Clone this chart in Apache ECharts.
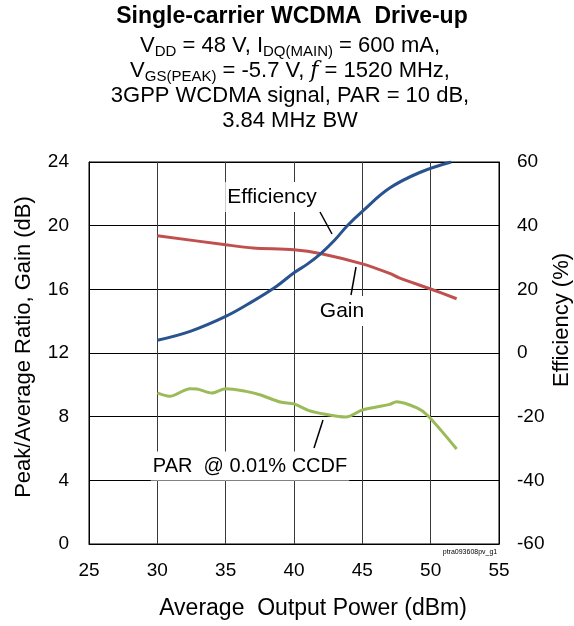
<!DOCTYPE html>
<html><head><meta charset="utf-8">
<script src="https://cdn.jsdelivr.net/npm/echarts@6/dist/echarts.min.js"></script>
<style>html,body{margin:0;padding:0;background:#fff}#c{width:574px;height:626px}</style>
</head><body><div id="c"></div>
<script>
const xTicks = [25, 30, 35, 40, 45, 50, 55];
const leftTicks = [0, 4, 8, 12, 16, 20, 24];
const rightTicks = [-60, -40, -20, 0, 20, 40, 60];

const effX = [30, 32.4, 35, 37, 38.7, 40, 41, 42, 43, 43.9, 45, 47, 49.2, 51.5];
const effY = [4.0, 6.8, 11.5, 16.3, 20.9, 25.2, 28.0, 31.4, 35.6, 40.0, 44.5, 51.8, 56.7, 60.0];

const gainX = [30, 35, 37, 40, 42, 45, 47, 47.7, 50, 51.9];
const gainY = [19.37, 18.8, 18.6, 18.49, 18.24, 17.6, 17.0, 16.72, 16.02, 15.41];

const parX = [30, 30.9, 32.4, 32.9, 34, 35, 36.5, 37.5, 39, 40, 41.1, 42.3, 43.8, 45, 47, 47.5, 49, 49.8, 51.9];
const parY = [9.49, 9.28, 9.76, 9.74, 9.49, 9.76, 9.59, 9.38, 8.92, 8.8, 8.38, 8.15, 7.98, 8.42, 8.77, 8.94, 8.55, 8.06, 5.97];

const FONT = '"Liberation Sans", Arial, sans-serif';
const pair = (xs, ys) => xs.map((x, i) => [x, ys[i]]);

const chart = echarts.init(document.getElementById('c'), null, {renderer: 'canvas'});
const sub = {fontSize: 15, fontFamily: FONT, color: '#000', verticalAlign: 'bottom', lineHeight: 26};
const mainT = {fontSize: 22, fontFamily: FONT, color: '#000', lineHeight: 26};

function titleLine(y, text) {
  return {type: 'text', x: 290, y: y, style: {
    text: text, fontSize: 22, fontFamily: FONT, fill: '#000', align: 'center', verticalAlign: 'middle',
    rich: {a: mainT, s: sub, f: {fontSize: 22, fontFamily: '"DejaVu Serif", serif', fontStyle: 'italic', color: '#000', lineHeight: 26}}
  }};
}
function note(x, y, text, size) {
  return {type: 'text', x: x, y: y, z: 10, style: {text: text, fontSize: size, fontFamily: FONT, fill: '#000',
    align: 'center', verticalAlign: 'middle', backgroundColor: '#fff', padding: [5, 2, 4, 2]}};
}

chart.setOption({
  animation: false,
  backgroundColor: '#fff',
  grid: {left: 89, right: 75, top: 162, bottom: 82, show: true, borderColor: '#000', borderWidth: 1, backgroundColor: 'transparent'},
  xAxis: {
    type: 'value', min: xTicks[0], max: xTicks[xTicks.length - 1], interval: 5,
    axisLine: {show: true, lineStyle: {color: '#000'}}, axisTick: {show: false},
    axisLabel: {fontSize: 19, fontFamily: FONT, color: '#000', margin: 17},
    splitLine: {show: true, lineStyle: {color: '#3a3a3a', width: 1}}
  },
  yAxis: [{
    type: 'value', min: leftTicks[0], max: leftTicks[leftTicks.length - 1], interval: 4,
    axisLine: {show: true, lineStyle: {color: '#000'}}, axisTick: {show: false},
    axisLabel: {fontSize: 19, fontFamily: FONT, color: '#000', margin: 20},
    splitLine: {show: true, lineStyle: {color: '#000', width: 1}}
  }, {
    type: 'value', min: rightTicks[0], max: rightTicks[rightTicks.length - 1], interval: 20,
    position: 'right',
    axisLine: {show: true, lineStyle: {color: '#000'}}, axisTick: {show: false},
    axisLabel: {fontSize: 19, fontFamily: FONT, color: '#000', margin: 18},
    splitLine: {show: false}
  }],
  series: [
    {name: 'Efficiency', type: 'line', yAxisIndex: 1, data: pair(effX, effY), smooth: 0.4, symbol: 'none',
     lineStyle: {color: '#29538f', width: 3}, z: 3},
    {name: 'Gain', type: 'line', yAxisIndex: 0, data: pair(gainX, gainY), smooth: 0.3, symbol: 'none',
     lineStyle: {color: '#c0504d', width: 3}, z: 2},
    {name: 'PAR', type: 'line', yAxisIndex: 0, data: pair(parX, parY), smooth: 0.3, symbol: 'none',
     lineStyle: {color: '#9bbb59', width: 3}, z: 2}
  ],
  graphic: [
    {type: 'text', x: 292, y: 17, style: {text: 'Single-carrier WCDMA  Drive-up', fontSize: 23, fontWeight: 'bold', fontFamily: FONT, fill: '#000', align: 'center', verticalAlign: 'middle'}},
    titleLine(46, '{a|V}{s|DD}{a| = 48 V, I}{s|DQ(MAIN)}{a| = 600 mA,}'),
    titleLine(71, '{a|V}{s|GS(PEAK)}{a| = -5.7 V, }{f|f}{a| = 1520 MHz,}'),
    titleLine(96, '{a|3GPP WCDMA signal, PAR = 10 dB,}'),
    titleLine(120.5, '{a|3.84 MHz BW}'),
    {type: 'text', x: 24, y: 347, rotation: Math.PI / 2, style: {text: 'Peak/Average Ratio, Gain (dB)', fontSize: 22, fontFamily: FONT, fill: '#000', align: 'center', verticalAlign: 'middle'}},
    {type: 'text', x: 562, y: 320, rotation: Math.PI / 2, style: {text: 'Efficiency (%)', fontSize: 22, fontFamily: FONT, fill: '#000', align: 'center', verticalAlign: 'middle'}},
    {type: 'text', x: 313, y: 609, style: {text: 'Average  Output Power (dBm)', fontSize: 23, fontFamily: FONT, fill: '#000', align: 'center', verticalAlign: 'middle'}},
    note(272, 197, 'Efficiency', 21),
    {type: 'line', z: 10, shape: {x1: 320, y1: 212, x2: 332, y2: 234}, style: {stroke: '#000', lineWidth: 1.5}},
    note(342, 311, 'Gain', 21),
    {type: 'line', z: 10, shape: {x1: 356, y1: 267, x2: 351, y2: 295}, style: {stroke: '#000', lineWidth: 1.5}},
    note(250, 466, 'PAR  @ 0.01% CCDF', 20),
    {type: 'line', z: 10, shape: {x1: 323, y1: 420, x2: 314, y2: 448}, style: {stroke: '#000', lineWidth: 1.5}},
    {type: 'text', x: 470, y: 552, style: {text: 'ptra093608pv_g1', fontSize: 7, fontFamily: FONT, fill: '#000', align: 'center', verticalAlign: 'middle'}}
  ]
});
</script></body></html>
